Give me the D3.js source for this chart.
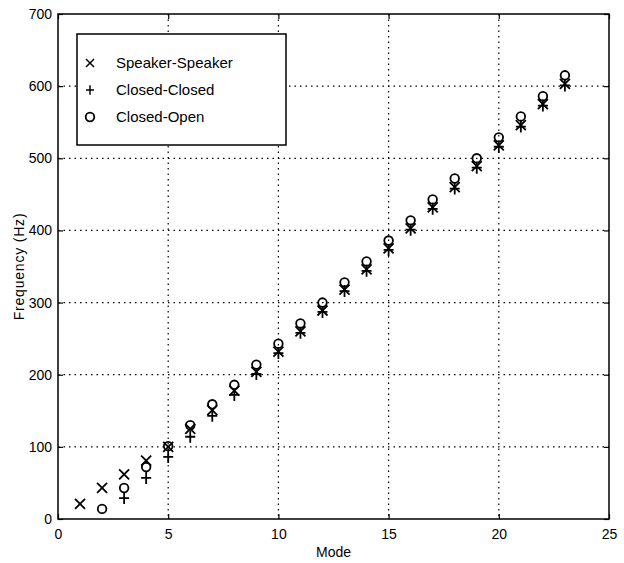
<!DOCTYPE html>
<html>
<head>
<meta charset="utf-8">
<title>Mode frequencies</title>
<script src="https://cdn.jsdelivr.net/npm/d3@7"></script>
<style>
  body { margin: 0; background: #fff; }
  .axis text { font-family: "Liberation Sans", Arial, sans-serif; font-size: 14px; fill: #000; }
  .lbl { font-family: "Liberation Sans", Arial, sans-serif; font-size: 14px; fill: #000; }
</style>
</head>
<body>
<div id="chart"></div>
<script>
// values
var modes = [1,2,3,4,5,6,7,8,9,10,11,12,13,14,15,16,17,18,19,20,21,22,23];
var speakerSpeaker = [21,43,62,81,100,125,151,178,204,232,260,289,318,346,375,403,432,460,489,518,546,575,603];
var closedClosed   = [null,null,29,57,86,114,143,172,201,230,258,287,316,344,373,401,430,458,487,516,544,573,601];
var closedOpen     = [null,14,43,72,101,130,159,186,214,243,271,300,328,357,386,414,443,472,500,529,558,586,615];
var xTicks = [0,5,10,15,20,25];
var yTicks = [0,100,200,300,400,500,600,700];
var seriesNames = ["Speaker-Speaker","Closed-Closed","Closed-Open"];

var W = 624, H = 563;
var m = {top: 14, right: 15, bottom: 44, left: 58};
var w = W - m.left - m.right, h = H - m.top - m.bottom;

var svg = d3.select("#chart").append("svg").attr("width", W).attr("height", H);
var g = svg.append("g").attr("transform", "translate(" + m.left + "," + m.top + ")");

var x = d3.scaleLinear().domain([0, 25]).range([0, w]);
var y = d3.scaleLinear().domain([0, 700]).range([h, 0]);

// dotted grid
g.selectAll(".gx").data(xTicks.slice(1, -1)).enter().append("line")
  .attr("x1", d => x(d)).attr("x2", d => x(d)).attr("y1", 0).attr("y2", h)
  .attr("stroke", "#000").attr("stroke-width", 1.2).attr("stroke-dasharray", "1.5,4");
g.selectAll(".gy").data(yTicks.slice(1, -1)).enter().append("line")
  .attr("y1", d => y(d)).attr("y2", d => y(d)).attr("x1", 0).attr("x2", w)
  .attr("stroke", "#000").attr("stroke-width", 1.2).attr("stroke-dasharray", "1.5,4");

// axes with inward ticks
g.append("g").attr("class", "axis").attr("transform", "translate(0," + h + ")")
  .call(d3.axisBottom(x).tickValues(xTicks).tickSize(-5).tickPadding(10))
  .call(s => s.select(".domain").remove());
g.append("g").attr("class", "axis")
  .call(d3.axisLeft(y).tickValues(yTicks).tickSize(-5).tickPadding(6))
  .call(s => s.select(".domain").remove());
g.append("g").call(d3.axisTop(x).tickValues(xTicks).tickSize(-5).tickFormat(""))
  .call(s => s.select(".domain").remove());
g.append("g").attr("transform", "translate(" + w + ",0)")
  .call(d3.axisRight(y).tickValues(yTicks).tickSize(-5).tickFormat(""))
  .call(s => s.select(".domain").remove());
g.selectAll(".tick line").attr("stroke", "#000").attr("stroke-width", 1.2);

g.append("rect").attr("width", w).attr("height", h)
  .attr("fill", "none").attr("stroke", "#000").attr("stroke-width", 1.5);

// markers
function drawMarker(sel, type) {
  var s = 5;
  if (type == 0) {
    sel.append("path").attr("d", "M" + (-s) + "," + (-s) + "L" + s + "," + s + "M" + (-s) + "," + s + "L" + s + "," + (-s));
  } else if (type == 1) {
    sel.append("path").attr("d", "M" + (-s) + ",0L" + s + ",0M0," + (-s - 1) + "L0," + (s + 1));
  } else {
    sel.append("circle").attr("r", 4.3).attr("fill", "none");
  }
  sel.selectAll("path,circle").attr("stroke", "#000").attr("stroke-width", 1.8).attr("fill", "none");
}

var allSeries = [speakerSpeaker, closedClosed, closedOpen];
allSeries.forEach(function(vals, k) {
  var pts = modes.map((md, i) => [md, vals[i]]).filter(p => p[1] != null);
  g.selectAll(".s" + k).data(pts).enter().append("g")
    .attr("transform", p => "translate(" + x(p[0]) + "," + y(p[1]) + ")")
    .each(function() { drawMarker(d3.select(this), k); });
});

// legend
var lg = g.append("g").attr("transform", "translate(19,20)");
lg.append("rect").attr("width", 209).attr("height", 111)
  .attr("fill", "#fff").attr("stroke", "#000").attr("stroke-width", 1.5);
seriesNames.forEach(function(name, k) {
  var row = lg.append("g").attr("transform", "translate(13," + (29 + k * 27) + ")");
  drawMarker(row.append("g"), k);
  row.select("path,circle").attr("transform", k == 2 ? null : "scale(0.8)");
  row.append("text").attr("class", "lbl").attr("x", 26).attr("dy", "0.35em")
    .style("font-size", "15px").text(name);
});

// axis titles
svg.append("text").attr("class", "lbl").attr("text-anchor", "middle")
  .attr("x", m.left + w / 2).attr("y", H - 6).text("Mode");
svg.append("text").attr("class", "lbl").attr("text-anchor", "middle")
  .style("letter-spacing", "0.8px")
  .attr("transform", "translate(24," + (m.top + h / 2) + ") rotate(-90)").text("Frequency (Hz)");
</script>
</body>
</html>
